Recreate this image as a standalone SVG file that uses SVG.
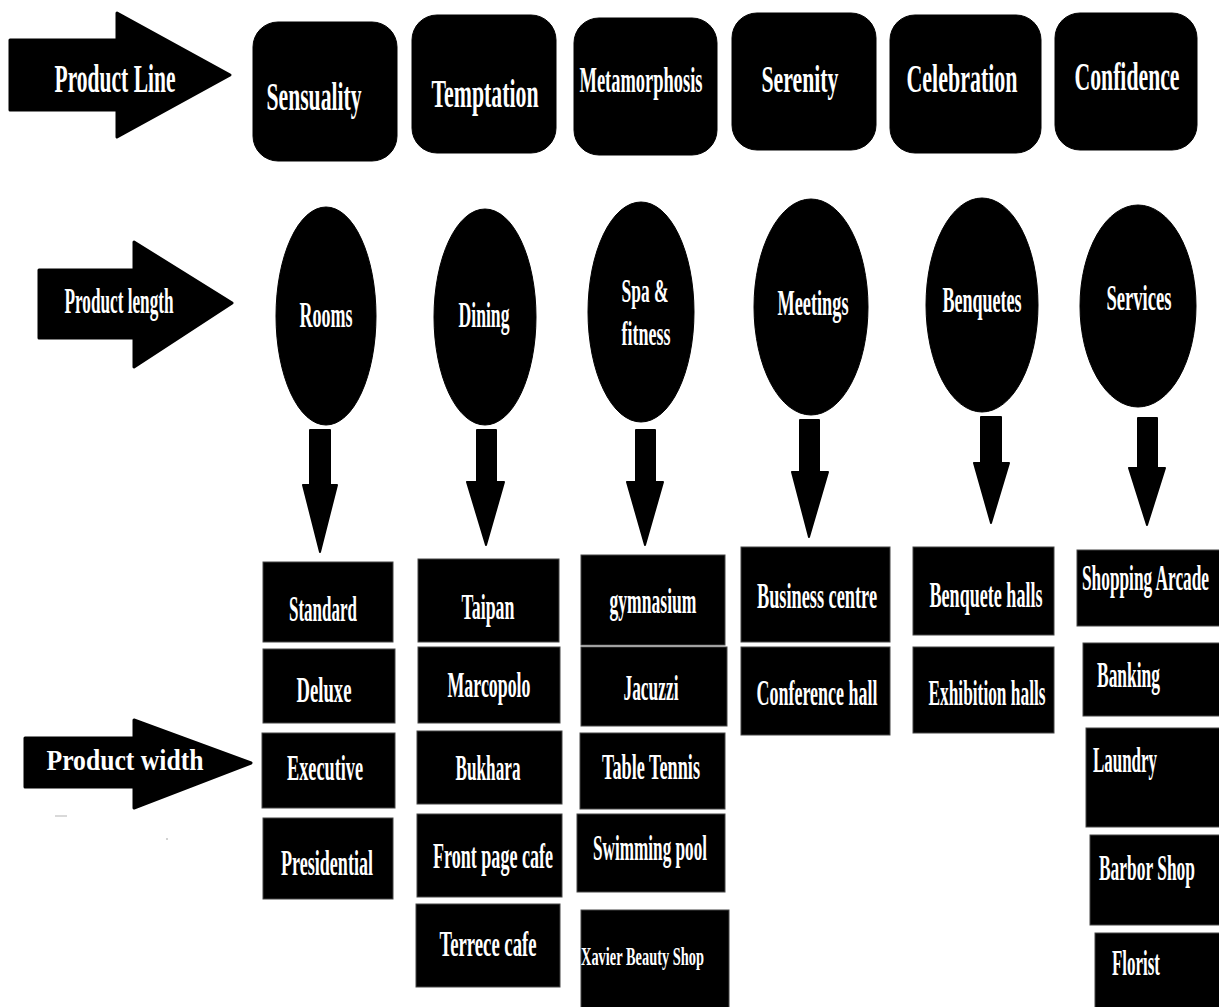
<svg xmlns="http://www.w3.org/2000/svg" width="1219" height="1007" viewBox="0 0 1219 1007">
<style>
.sh{fill:#000;stroke:#000;stroke-linejoin:round}
.bx{fill:#000;stroke:#444;stroke-width:1}
.t{fill:#fff;font-family:"Liberation Serif","Times New Roman",serif;font-weight:bold;text-anchor:middle}
.ts{fill:#fff;font-family:"Liberation Serif","Times New Roman",serif;font-weight:bold;text-anchor:start}
</style>
<rect width="1219" height="1007" fill="#fff"/>

<g id="label-product-line">
<path class="sh" stroke-width="3" d="M10,40 H117 V13 L230,75 L117,137 V110 H10 Z"/>
<text class="t" x="115" y="92" font-size="39" textLength="121" lengthAdjust="spacingAndGlyphs">Product Line</text>
</g>
<g id="label-product-length">
<path class="sh" stroke-width="3" d="M39,270 H134 V242 L232,303 L134,367 V338 H39 Z"/>
<text class="t" x="119" y="313" font-size="35" textLength="109" lengthAdjust="spacingAndGlyphs">Product length</text>
</g>
<g id="label-product-width">
<path class="sh" stroke-width="3" d="M25,738 H134 V720 L251,763 L134,808 V787 H25 Z"/>
<text class="t" x="125" y="770" font-size="29" textLength="157" lengthAdjust="spacingAndGlyphs">Product width</text>
</g>
<line x1="55" y1="816" x2="67" y2="816" stroke="#ccc" stroke-width="1.5"/>
<circle cx="167" cy="839" r="0.8" fill="#999"/>

<g id="line-sensuality"><rect class="sh" x="253" y="22" width="144" height="139" rx="25"/><text class="t" x="314" y="110" font-size="40" textLength="95" lengthAdjust="spacingAndGlyphs">Sensuality</text></g>
<g id="line-temptation"><rect class="sh" x="412" y="15" width="144" height="138" rx="25"/><text class="t" x="485" y="107" font-size="40" textLength="107" lengthAdjust="spacingAndGlyphs">Temptation</text></g>
<g id="line-metamorphosis"><rect class="sh" x="574" y="18" width="143" height="137" rx="25"/><text class="t" x="641" y="92" font-size="35" textLength="123" lengthAdjust="spacingAndGlyphs">Metamorphosis</text></g>
<g id="line-serenity"><rect class="sh" x="732" y="13" width="144" height="137" rx="25"/><text class="t" x="800" y="92" font-size="37" textLength="77" lengthAdjust="spacingAndGlyphs">Serenity</text></g>
<g id="line-celebration"><rect class="sh" x="890" y="15" width="151" height="138" rx="25"/><text class="t" x="962" y="92" font-size="40" textLength="111" lengthAdjust="spacingAndGlyphs">Celebration</text></g>
<g id="line-confidence"><rect class="sh" x="1055" y="13" width="142" height="137" rx="25"/><text class="t" x="1127" y="90" font-size="40" textLength="105" lengthAdjust="spacingAndGlyphs">Confidence</text></g>

<g id="len-rooms"><ellipse class="sh" cx="326" cy="316" rx="50" ry="109"/><text class="t" x="326" y="327" font-size="35" textLength="53" lengthAdjust="spacingAndGlyphs">Rooms</text></g>
<g id="len-dining"><ellipse class="sh" cx="485" cy="317" rx="51" ry="108"/><text class="t" x="484" y="327" font-size="35" textLength="51" lengthAdjust="spacingAndGlyphs">Dining</text></g>
<g id="len-spa"><ellipse class="sh" cx="641" cy="312" rx="53" ry="110"/><text class="t" x="645" y="302" font-size="34" textLength="47" lengthAdjust="spacingAndGlyphs">Spa &amp;</text><text class="t" x="646" y="345" font-size="34" textLength="49" lengthAdjust="spacingAndGlyphs">fitness</text></g>
<g id="len-meetings"><ellipse class="sh" cx="811" cy="307" rx="57" ry="108"/><text class="t" x="813" y="315" font-size="35" textLength="71" lengthAdjust="spacingAndGlyphs">Meetings</text></g>
<g id="len-benquetes"><ellipse class="sh" cx="982" cy="305" rx="56" ry="107"/><text class="t" x="982" y="312" font-size="35" textLength="79" lengthAdjust="spacingAndGlyphs">Benquetes</text></g>
<g id="len-services"><ellipse class="sh" cx="1138" cy="306" rx="58" ry="101"/><text class="t" x="1139" y="310" font-size="35" textLength="65" lengthAdjust="spacingAndGlyphs">Services</text></g>

<g id="connectors">
<path class="sh" stroke-width="2" d="M310,430 H330 V485 H337 L320,552 L303,485 H310 Z"/>
<path class="sh" stroke-width="2" d="M477,430 H496 V482 H504 L486,545 L467,482 H477 Z"/>
<path class="sh" stroke-width="2" d="M636,430 H655 V482 H663 L645,545 L627,482 H636 Z"/>
<path class="sh" stroke-width="2" d="M800,420 H819 V472 H828 L809,537 L792,472 H800 Z"/>
<path class="sh" stroke-width="2" d="M981,417 H1001 V463 H1009 L991,523 L974,463 H981 Z"/>
<path class="sh" stroke-width="2" d="M1138,418 H1157 V468 H1165 L1147,525 L1129,468 H1138 Z"/>
</g>

<g id="w-standard"><rect class="bx" x="263" y="562" width="130" height="80"/><text class="t" x="323" y="621" font-size="36" textLength="68" lengthAdjust="spacingAndGlyphs">Standard</text></g>
<g id="w-deluxe"><rect class="bx" x="263" y="649" width="132" height="74"/><text class="t" x="324" y="702" font-size="36" textLength="55" lengthAdjust="spacingAndGlyphs">Deluxe</text></g>
<g id="w-executive"><rect class="bx" x="262" y="733" width="133" height="75"/><text class="t" x="325" y="780" font-size="36" textLength="76" lengthAdjust="spacingAndGlyphs">Executive</text></g>
<g id="w-presidential"><rect class="bx" x="263" y="818" width="130" height="81"/><text class="t" x="327" y="875" font-size="36" textLength="92" lengthAdjust="spacingAndGlyphs">Presidential</text></g>

<g id="w-taipan"><rect class="bx" x="418" y="559" width="141" height="83"/><text class="t" x="488" y="619" font-size="36" textLength="53" lengthAdjust="spacingAndGlyphs">Taipan</text></g>
<g id="w-marcopolo"><rect class="bx" x="418" y="647" width="142" height="76"/><text class="t" x="489" y="697" font-size="36" textLength="83" lengthAdjust="spacingAndGlyphs">Marcopolo</text></g>
<g id="w-bukhara"><rect class="bx" x="417" y="731" width="145" height="73"/><text class="t" x="488" y="780" font-size="36" textLength="65" lengthAdjust="spacingAndGlyphs">Bukhara</text></g>
<g id="w-frontpage"><rect class="bx" x="417" y="814" width="145" height="83"/><text class="t" x="493" y="868" font-size="36" textLength="120" lengthAdjust="spacingAndGlyphs">Front page cafe</text></g>
<g id="w-terrece"><rect class="bx" x="416" y="904" width="144" height="83"/><text class="t" x="488" y="956" font-size="36" textLength="97" lengthAdjust="spacingAndGlyphs">Terrece cafe</text></g>

<g id="w-gymnasium"><rect class="bx" x="581" y="555" width="144" height="90"/><text class="t" x="653" y="613" font-size="36" textLength="87" lengthAdjust="spacingAndGlyphs">gymnasium</text></g>
<g id="w-jacuzzi"><rect class="bx" x="581" y="647" width="146" height="79"/><text class="t" x="651" y="700" font-size="36" textLength="55" lengthAdjust="spacingAndGlyphs">Jacuzzi</text></g>
<g id="w-tabletennis"><rect class="bx" x="580" y="733" width="145" height="76"/><text class="t" x="651" y="779" font-size="36" textLength="98" lengthAdjust="spacingAndGlyphs">Table Tennis</text></g>
<g id="w-swimming"><rect class="bx" x="577" y="814" width="148" height="78"/><text class="t" x="650" y="860" font-size="36" textLength="114" lengthAdjust="spacingAndGlyphs">Swimming pool</text></g>
<g id="w-xavier"><rect class="bx" x="581" y="910" width="148" height="100"/><text class="ts" x="581" y="965" font-size="26" textLength="123" lengthAdjust="spacingAndGlyphs">Xavier Beauty Shop</text></g>

<g id="w-business"><rect class="bx" x="741" y="547" width="149" height="95"/><text class="t" x="817" y="608" font-size="36" textLength="120" lengthAdjust="spacingAndGlyphs">Business centre</text></g>
<g id="w-conference"><rect class="bx" x="741" y="647" width="149" height="88"/><text class="t" x="817" y="705" font-size="36" textLength="121" lengthAdjust="spacingAndGlyphs">Conference hall</text></g>

<g id="w-benquetehalls"><rect class="bx" x="913" y="547" width="141" height="88"/><text class="t" x="986" y="607" font-size="36" textLength="113" lengthAdjust="spacingAndGlyphs">Benquete halls</text></g>
<g id="w-exhibition"><rect class="bx" x="913" y="647" width="141" height="86"/><text class="t" x="987" y="705" font-size="36" textLength="117" lengthAdjust="spacingAndGlyphs">Exhibition halls</text></g>

<g id="w-shopping"><rect class="bx" x="1077" y="550" width="150" height="76"/><text class="ts" x="1082" y="590" font-size="36" textLength="127" lengthAdjust="spacingAndGlyphs">Shopping Arcade</text></g>
<g id="w-banking"><rect class="bx" x="1083" y="643" width="144" height="73"/><text class="ts" x="1097" y="687" font-size="36" textLength="63" lengthAdjust="spacingAndGlyphs">Banking</text></g>
<g id="w-laundry"><rect class="bx" x="1086" y="728" width="141" height="99"/><text class="ts" x="1093" y="772" font-size="36" textLength="64" lengthAdjust="spacingAndGlyphs">Laundry</text></g>
<g id="w-barbor"><rect class="bx" x="1090" y="835" width="137" height="90"/><text class="ts" x="1099" y="880" font-size="36" textLength="96" lengthAdjust="spacingAndGlyphs">Barbor Shop</text></g>
<g id="w-florist"><rect class="bx" x="1095" y="933" width="132" height="80"/><text class="ts" x="1112" y="975" font-size="36" textLength="48" lengthAdjust="spacingAndGlyphs">Florist</text></g>
</svg>
